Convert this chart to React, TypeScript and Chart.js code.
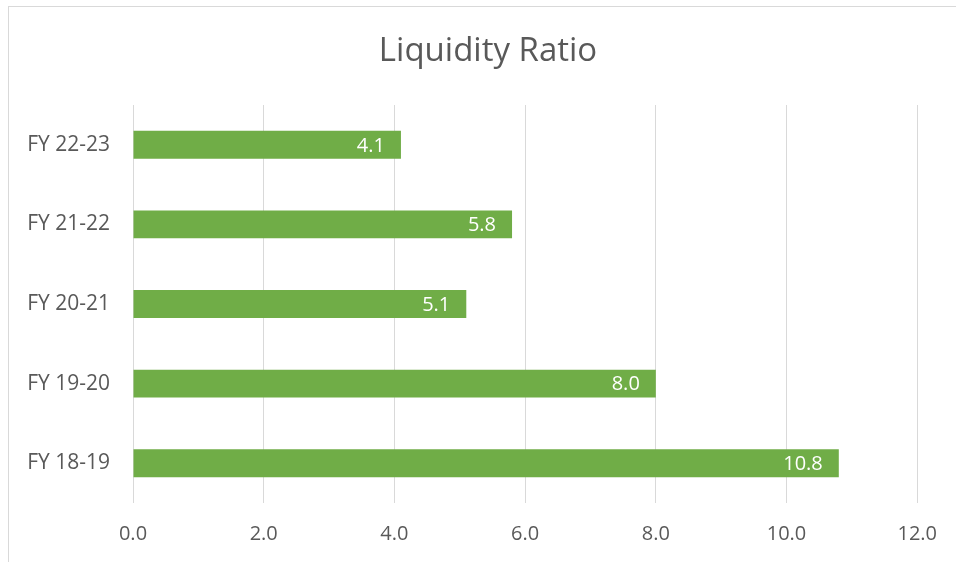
import React, { useEffect, useRef } from "react";
import { Chart, registerables } from "chart.js";

Chart.register(...registerables);

const categories = ["FY 18-19", "FY 19-20", "FY 20-21", "FY 21-22", "FY 22-23"];
const ratioValues = [10.8, 8.0, 5.1, 5.8, 4.1];
const xTickMin = 0;
const xTickMax = 12;
const xTickStep = 2;
const chartTitle = "Liquidity Ratio";

const FONT = "'Open Sans', sans-serif";

const barLabelPlugin = {
  id: "barLabels",
  afterDatasetsDraw(chart: any) {
    const ctx = chart.ctx;
    const meta = chart.getDatasetMeta(0);
    const ds = chart.data.datasets[0];
    ctx.save();
    ctx.fillStyle = "#FFFFFF";
    ctx.font = `20px ${FONT}`;
    ctx.textAlign = "right";
    ctx.textBaseline = "middle";
    meta.data.forEach((el: any, i: number) => {
      const v = ds.data[i] as number;
      ctx.fillText(v.toFixed(1), el.x - 16, el.y + 1);
    });
    ctx.restore();
  },
};

const titlePlugin = {
  id: "centeredTitle",
  afterDraw(chart: any) {
    const ctx = chart.ctx;
    ctx.save();
    ctx.fillStyle = "#595959";
    ctx.font = `33px ${FONT}`;
    ctx.textAlign = "center";
    ctx.textBaseline = "middle";
    ctx.fillText(chartTitle, 488, 52);
    ctx.restore();
  },
};

export default function App() {
  const ref = useRef<HTMLCanvasElement | null>(null);

  useEffect(() => {
    if (!ref.current) return;
    const chart = new Chart(ref.current, {
      type: "bar",
      data: {
        labels: categories,
        datasets: [
          {
            data: ratioValues,
            backgroundColor: "#70AD47",
            borderWidth: 0,
            barPercentage: 0.35,
            categoryPercentage: 1,
          },
        ],
      },
      options: {
        indexAxis: "y",
        animation: false,
        responsive: false,
        devicePixelRatio: 1,
        layout: { padding: { left: 8, right: 36, top: 105, bottom: 0 } },
        plugins: {
          legend: { display: false },
          tooltip: { enabled: false },
          title: { display: false },
        },
        scales: {
          x: {
            min: xTickMin,
            max: xTickMax,
            ticks: {
              stepSize: xTickStep,
              color: "#595959",
              font: { family: FONT, size: 20 },
              padding: 19,
              callback: (v: any) => Number(v).toFixed(1),
            },
            grid: { color: "#D9D9D9", lineWidth: 1, drawTicks: false },
            border: { display: false },
            afterFit: (s: any) => {
              s.height = 59;
            },
          },
          y: {
            reverse: true,
            ticks: {
              color: "#595959",
              font: { family: FONT, size: 21 },
              padding: 23,
            },
            grid: { display: false, drawTicks: false },
            border: { display: false },
            afterFit: (s: any) => {
              s.width = 125;
            },
          },
        },
      },
      plugins: [barLabelPlugin, titlePlugin],
    });
    return () => chart.destroy();
  }, []);

  return (
    <div
      style={{
        position: "fixed",
        left: 0,
        top: 0,
        width: 956,
        height: 562,
        overflow: "hidden",
        background: "#FFFFFF",
      }}
    >
      <div
        style={{
          position: "absolute",
          left: 8,
          top: 6,
          width: 980,
          height: 600,
          border: "1px solid #D9D9D9",
          boxSizing: "border-box",
        }}
      />
      <canvas
        ref={ref}
        width={956}
        height={562}
        style={{ position: "absolute", left: 0, top: 0, width: 956, height: 562 }}
      />
    </div>
  );
}
